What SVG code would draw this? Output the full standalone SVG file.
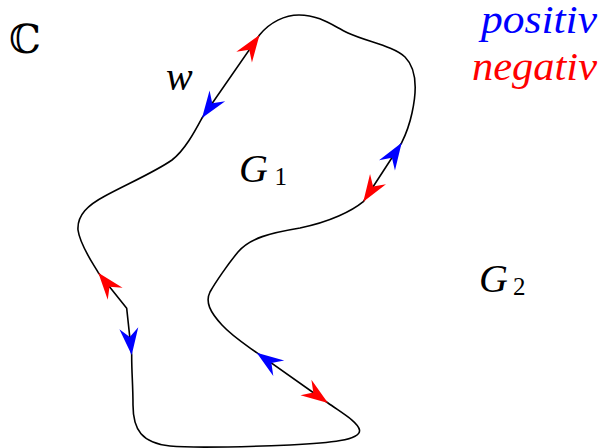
<svg xmlns="http://www.w3.org/2000/svg" xmlns:xlink="http://www.w3.org/1999/xlink" width="614" height="448" viewBox="0 0 614 448">
<style>
.curve{fill:none;stroke:#000;stroke-width:1.6;stroke-linejoin:round}
.pos{fill:#0000ff}
.neg{fill:#ff0000}
</style>
<defs>
<path id="ah" d="M0,0 L-27,-9.5 L-18,0 L-27,9.5 Z"/>
</defs>
<g id="connectors">
<path id="contour" class="curve" d="M259.5,35 C270,22 285,15 299,15 C320,15 333,26 348,33 C368,42 393,46 405,57 C418,70 416,95 412,113 C409,127 405,136 401.7,142.7 L363.3,201.7 C352,211 330,222 300,228 C270,233 250,238 238,252 C228,264 215,283 210,292 C205,302 210,312 222,325 C232,336 246,345 256.7,352.7 L328,403 C342,413 358,422 359.5,430 C361,440 330,443 290,445 C240,447 190,448 170,446 C142,443 133,430 133,405 C133,385 131.5,370 131.7,355 L126.7,308.3 L98.3,272.7 C92,262 80,245 78,230 C77,215 88,205 105,196 C125,185 155,172 172,160 C185,150 195,131 202,118 Z"/>
<use xlink:href="#ah" class="neg" transform="translate(259.5,35) rotate(-55.3)"/>
<use xlink:href="#ah" class="pos" transform="translate(202,118) rotate(124.7)"/>
<use xlink:href="#ah" class="pos" transform="translate(401.7,142.7) rotate(-57)"/>
<use xlink:href="#ah" class="neg" transform="translate(363.3,201.7) rotate(123)"/>
<use xlink:href="#ah" class="neg" transform="translate(98.3,272.7) rotate(-128.6)"/>
<use xlink:href="#ah" class="pos" transform="translate(131.7,355) rotate(83.9)"/>
<use xlink:href="#ah" class="pos" transform="translate(256.7,352.7) rotate(215.2)"/>
<use xlink:href="#ah" class="neg" transform="translate(328,403) rotate(35.2)"/>
</g>
<g id="label-C"><text font-family="DejaVu Serif, DejaVu Sans, serif" font-size="40" x="9" y="53">ℂ</text></g>
<g id="label-w"><text font-family="Liberation Serif, serif" font-style="italic" font-size="40" x="166" y="90">w</text></g>
<g id="label-G1"><text font-family="Liberation Serif, serif" font-style="italic" font-size="40" x="239" y="181.7">G</text><text font-family="Liberation Serif, serif" font-size="25" x="274.5" y="185">1</text></g>
<g id="label-G2"><text font-family="Liberation Serif, serif" font-style="italic" font-size="40" x="479" y="291.7">G</text><text font-family="Liberation Serif, serif" font-size="25" x="513" y="295">2</text></g>
<g id="legend">
<text font-family="Liberation Serif, serif" font-style="italic" font-size="40" fill="#0000ff" x="481" y="33.3" textLength="116" lengthAdjust="spacingAndGlyphs">positiv</text>
<text font-family="Liberation Serif, serif" font-style="italic" font-size="40" fill="#ff0000" x="472" y="80" textLength="125" lengthAdjust="spacingAndGlyphs">negativ</text>
</g>
</svg>
